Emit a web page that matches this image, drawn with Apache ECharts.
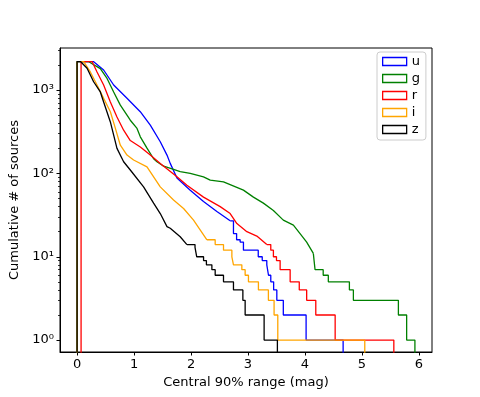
<!DOCTYPE html>
<html>
<head>
<meta charset="utf-8">
<script src="https://cdn.jsdelivr.net/npm/echarts@6/dist/echarts.min.js"></script>
<style>
  html, body { margin: 0; padding: 0; background: #fff; }
  #chart { width: 480px; height: 397px; }
</style>
</head>
<body>
<div id="chart"></div>
<script>
// bands and colours
const bands = ['u', 'g', 'r', 'i', 'z']
const colors = ['#0000ff', '#008000', '#ff0000', '#ffa500', '#000000']

// where each cumulative histogram starts and ends (mag)
const startX = [0, 0, 0.07, 0, 0]
const endX = [4.67, 5.93, 5.56, 5.05, 3.516]

// upper, densely stepped part of each curve
const uX = [0, 0.286, 0.466, 0.642, 0.876, 1.109, 1.285, 1.46, 1.578, 1.635, 1.753, 1.986, 2.219, 2.454, 2.687]
const uN = [2200, 2200, 1742, 1151, 798, 551, 380, 240, 166, 132, 88, 63, 46, 35, 27]
const gX = [0, 0.198, 0.408, 0.526, 0.642, 0.759, 0.876, 0.934, 1.052, 1.11, 1.227, 1.343, 1.402, 1.52, 1.693, 1.81, 1.986, 2.219, 2.337, 2.57, 2.92, 3.095, 3.27, 3.446, 3.62, 3.797, 3.914, 4.03, 4.147]
const gN = [2200, 2200, 1810, 1380, 950, 660, 500, 435, 347, 275, 201, 150, 138, 122, 112, 105, 100, 91, 83, 79, 63, 52, 44, 36, 27.5, 24, 19, 15, 11]
const rX = [0.07, 0.263, 0.35, 0.466, 0.584, 0.70, 0.817, 0.934, 1.11, 1.285, 1.46, 1.753, 1.928, 2.219, 2.512, 2.687, 2.805, 2.98, 3.155, 3.33]
const rN = [2200, 2200, 1650, 1150, 720, 475, 330, 248, 208, 166, 132, 91, 72, 52, 40, 33, 25, 20, 17.7, 14]
const iX = [0, 0.116, 0.233, 0.35, 0.466, 0.584, 0.671, 0.759, 0.876, 0.992, 1.227, 1.46, 1.693, 1.869, 2.044, 2.16, 2.279]
const iN = [2200, 2200, 1650, 1150, 795, 550, 350, 218, 166, 145, 120, 69, 48, 38, 27.5, 21, 16]
const zX = [0, 0.06, 0.175, 0.29, 0.408, 0.466, 0.584, 0.642, 0.70, 0.817, 0.934, 1.167, 1.343, 1.46, 1.578, 1.635, 1.81, 1.928]
const zN = [2200, 2200, 1830, 1260, 950, 720, 415, 288, 200, 138, 110, 69, 44, 33, 23, 22, 17.4, 14]

// lower tail with visible integer steps
const uStepX = [2.687, 2.745, 2.80, 2.862, 2.92, 3.18, 3.25, 3.33, 3.36, 3.40, 3.45, 3.506, 3.62, 4.02]
const uStepN = [27, 19, 16, 15, 12, 10, 9, 8, 6, 5, 4, 3, 2, 1]
const gStepX = [4.147, 4.16, 4.177, 4.32, 4.41, 4.78, 4.85, 5.64, 5.785]
const gStepN = [11, 9, 7, 6, 5, 4, 3, 2, 1]
const rStepX = [3.33, 3.40, 3.446, 3.50, 3.564, 3.74, 3.90, 4.03, 4.19, 4.53]
const rStepN = [14, 12, 10, 9, 7, 5, 4, 3, 2, 1]
const iStepX = [2.279, 2.424, 2.57, 2.717, 2.745, 2.892, 2.95, 3.008, 3.183, 3.358, 3.458, 3.523]
const iStepN = [16, 14, 12, 10, 8, 7, 6, 5, 4, 3, 2, 1]
const zStepX = [1.928, 2.07, 2.10, 2.22, 2.27, 2.366, 2.424, 2.57, 2.745, 2.91, 2.95, 3.283]
const zStepN = [14, 13, 10, 9, 8, 7, 6, 5, 4, 3, 2, 1]

// ticks
const xTicks = [0, 1, 2, 3, 4, 5, 6]
const yTicks = [1, 10, 100, 1000]
const yMinorTicks = [2, 3, 4, 5, 6, 7, 8, 9, 20, 30, 40, 50, 60, 70, 80, 90, 200, 300, 400, 500, 600, 700, 800, 900, 2000, 3000]
const supDigits = { 0: '\u2070', 1: '\u00b9', 2: '\u00b2', 3: '\u00b3' }

// zero counts sit below the log axis, so they go to the bottom edge
const FLOOR = 0.1

const dense = [[uX, uN], [gX, gN], [rX, rN], [iX, iN], [zX, zN]]
const tails = [[uStepX, uStepN], [gStepX, gStepN], [rStepX, rStepN], [iStepX, iStepN], [zStepX, zStepN]]

function pairs(xs, ys) {
  return xs.map((x, k) => [x, ys[k]])
}

const series = []
bands.forEach((b, k) => {
  const line = { color: colors[k], width: 1.3 }
  series.push({
    name: b,
    type: 'line',
    showSymbol: false,
    lineStyle: line,
    itemStyle: { color: colors[k] },
    data: [[startX[k], FLOOR]].concat(pairs(dense[k][0], dense[k][1]))
  })
  series.push({
    name: b,
    type: 'line',
    step: 'end',
    showSymbol: false,
    lineStyle: line,
    itemStyle: { color: colors[k] },
    data: pairs(tails[k][0], tails[k][1]).concat([[endX[k], FLOOR]])
  })
})

const font = 'DejaVu Sans'
const chart = echarts.init(document.getElementById('chart'))
chart.setOption({
  animation: false,
  textStyle: { fontFamily: font },
  grid: {
    left: 60, right: 48, top: 48, bottom: 45,
    show: true, borderColor: '#000', borderWidth: 1
  },
  legend: {
    orient: 'vertical',
    left: 377,
    top: 52,
    padding: [3, 6, 4, 5],
    itemGap: 4,
    itemWidth: 24,
    itemHeight: 8,
    icon: 'rect',
    borderColor: '#cccccc',
    borderWidth: 1,
    borderRadius: 3,
    backgroundColor: 'rgba(255,255,255,0.8)',
    textStyle: { fontFamily: font, fontSize: 13, color: '#000', lineHeight: 13 },
    data: bands.map((b, k) => ({
      name: b,
      itemStyle: { color: '#ffffff', borderColor: colors[k], borderWidth: 1.3 }
    }))
  },
  xAxis: {
    type: 'value',
    min: -0.3,
    max: 6.23,
    name: 'Central 90% range (mag)',
    nameLocation: 'middle',
    nameGap: 24,
    nameTextStyle: { fontFamily: font, fontSize: 13, color: '#000' },
    axisLine: { show: true, onZero: false, lineStyle: { color: '#000', width: 1 } },
    axisTick: { show: true, length: 3.5, customValues: xTicks, lineStyle: { color: '#000' } },
    axisLabel: { customValues: xTicks, fontFamily: font, fontSize: 13, color: '#000', margin: 6 },
    splitLine: { show: false }
  },
  yAxis: [
    {
      type: 'log',
      logBase: 10,
      min: 0.72,
      max: 3200,
      name: 'Cumulative # of sources',
      nameLocation: 'middle',
      nameGap: 28,
      nameTextStyle: { fontFamily: font, fontSize: 13, color: '#000' },
      axisLine: { show: true, onZero: false, lineStyle: { color: '#000', width: 1 } },
      axisTick: { show: true, length: 3.5, customValues: yTicks, lineStyle: { color: '#000' } },
      axisLabel: {
        customValues: yTicks,
        fontFamily: font,
        fontSize: 13,
        color: '#000',
        margin: 6,
        formatter: function (v) {
          const e = Math.round(Math.log10(v))
          return '10' + supDigits[e]
        }
      },
      splitLine: { show: false }
    },
    {
      type: 'log',
      logBase: 10,
      min: 0.72,
      max: 3200,
      position: 'left',
      axisLine: { show: false, onZero: false },
      axisTick: { show: true, length: 2, customValues: yMinorTicks, lineStyle: { color: '#000', width: 0.8 } },
      axisLabel: { show: false },
      splitLine: { show: false }
    }
  ],
  series: series
})
</script>
</body>
</html>
